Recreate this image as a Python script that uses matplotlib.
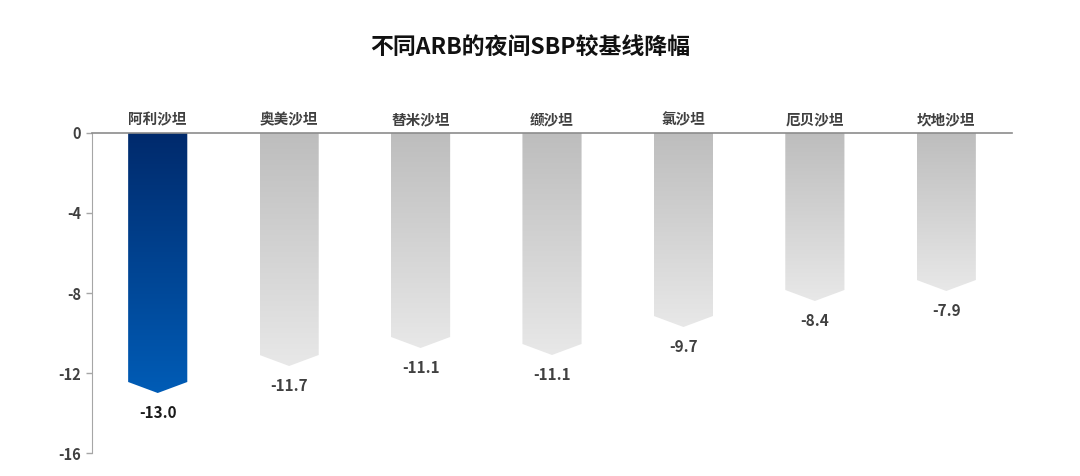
import matplotlib
matplotlib.use("Agg")
import matplotlib.pyplot as plt
import matplotlib.colors as mcolors
from matplotlib.patches import Polygon
import numpy as np

plt.rcParams['font.family'] = ['Noto Sans CJK SC', 'DejaVu Sans']

# data
drugs = ["阿利沙坦", "奥美沙坦", "替米沙坦", "缬沙坦", "氯沙坦", "厄贝沙坦", "坎地沙坦"]
bar_values = [-13.0, -11.65, -10.75, -11.1, -9.7, -8.4, -7.9]   # as drawn
label_values = [-13.0, -11.7, -11.1, -11.1, -9.7, -8.4, -7.9]  # as printed
yticks = [0, -4, -8, -12, -16]

bar_w = 0.45
notch = 0.55  # depth of the arrow tip, in data units

blue_cmap = mcolors.LinearSegmentedColormap.from_list("blue", ["#002A6C", "#005CB6"])
gray_cmap = mcolors.LinearSegmentedColormap.from_list("gray", ["#BDBDBD", "#E8E8E8"])

fig = plt.figure(figsize=(10.8, 4.76), dpi=100)
ax = fig.add_axes([92/1080, 1-453/476, 920/1080, 320/476])

x = np.arange(len(drugs))
grad = np.linspace(0, 1, 256).reshape(-1, 1)

for i, (xi, v) in enumerate(zip(x, bar_values)):
    l, r = xi - bar_w/2, xi + bar_w/2
    poly = Polygon([(l, 0), (r, 0), (r, v + notch), (xi, v), (l, v + notch)],
                   closed=True, facecolor="none", edgecolor="none")
    ax.add_patch(poly)
    cmap = blue_cmap if i == 0 else gray_cmap
    im = ax.imshow(grad, cmap=cmap, extent=[l, r, v, 0], aspect="auto",
                   origin="upper", interpolation="bilinear", zorder=2)
    im.set_clip_path(poly)
    ax.annotate("%.1f" % label_values[i], (xi, v), xytext=(0, -14.5),
                textcoords="offset points", ha="center", va="center",
                fontsize=11, fontweight="bold",
                color="#1a1a1a" if i == 0 else "#404040")

ax.set_xlim(-0.5, len(drugs) - 0.5)
ax.set_ylim(-16, 0)

ax.xaxis.tick_top()
ax.set_xticks(x)
ax.set_xticklabels(drugs, fontsize=10.5, fontweight="bold", color="#404040")
ax.tick_params(axis="x", length=0, pad=4)

ax.set_yticks(yticks)
ax.set_yticklabels([str(t) for t in yticks], fontsize=10.5, fontweight="bold", color="#404040")
ax.tick_params(axis="y", length=4, width=1, color="#A6A6A6", pad=4)

for s in ["right", "bottom"]:
    ax.spines[s].set_visible(False)
ax.spines["left"].set_color("#A6A6A6")
ax.spines["top"].set_color("#8C8C8C")
ax.spines["top"].set_linewidth(1.2)

fig.suptitle("不同ARB的夜间SBP较基线降幅", x=530/1080, y=1-47/476, va="center",
             fontsize=16.5, fontweight="bold", color="#111111")

fig.savefig("out.png", dpi=100)
